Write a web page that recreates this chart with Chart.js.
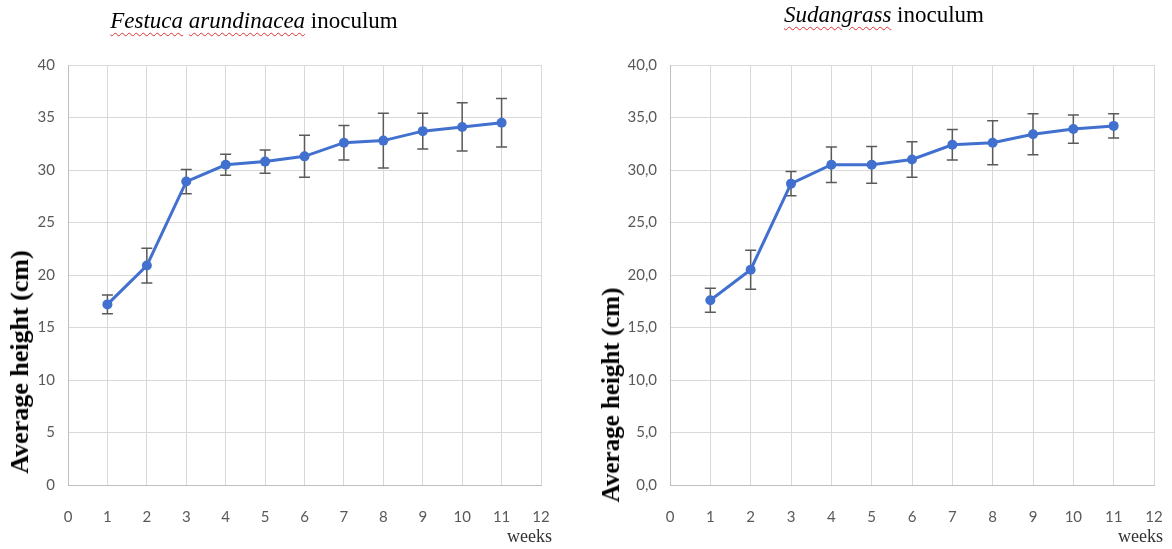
<!DOCTYPE html>
<html>
<head>
<meta charset="utf-8">
<script src="https://cdn.jsdelivr.net/npm/chart.js@4/dist/chart.umd.min.js"></script>
<style>
  html, body { margin:0; padding:0; background:#fff; overflow:hidden; }
  #wrap { position:relative; width:1172px; height:549px; overflow:hidden; background:#fff; }
  canvas { position:absolute; top:0; }
  .title { position:absolute; font-family:"Liberation Serif","DejaVu Serif",serif; font-size:23px; color:#000; white-space:nowrap; transform:translateX(-50%); }
  .title i { text-decoration: underline wavy #e03030; text-decoration-thickness:1px; text-underline-offset:4px; }
  .ytitle { position:absolute; font-family:"Liberation Serif","DejaVu Serif",serif; font-weight:bold; color:#000; white-space:nowrap; transform:translate(-50%,-50%) rotate(-90deg); }
  .weeks { position:absolute; font-family:"Liberation Serif","DejaVu Serif",serif; font-size:18px; color:#333; white-space:nowrap; }
</style>
</head>
<body>
<div id="wrap">
  <canvas id="c1" width="585" height="549" style="left:0px; width:585px; height:549px"></canvas>
  <canvas id="c2" width="587" height="549" style="left:585px; width:587px; height:549px"></canvas>
  <div class="title" style="left:254px; top:8px;"><i>Festuca</i> <i>arundinacea</i> inoculum</div>
  <div class="title" style="left:884px; top:2px;"><i>Sudangrass</i> inoculum</div>
  <div class="ytitle" style="left:20px; top:362px; font-size:26px;">Average height (cm)</div>
  <div class="ytitle" style="left:611px; top:395px; font-size:25px;">Average height (cm)</div>
  <div class="weeks" style="left:507px; top:526px;">weeks</div>
  <div class="weeks" style="left:1118px; top:526px;">weeks</div>
</div>
<script>
const weeks = [1, 2, 3, 4, 5, 6, 7, 8, 9, 10, 11];
const festucaMean = [17.2, 20.9, 28.9, 30.5, 30.8, 31.3, 32.6, 32.8, 33.7, 34.1, 34.5];
const festucaErr  = [0.9, 1.65, 1.15, 1.0, 1.1, 2.0, 1.65, 2.6, 1.7, 2.3, 2.3];
const sudanMean   = [17.6, 20.5, 28.7, 30.5, 30.5, 31.0, 32.4, 32.6, 33.4, 33.9, 34.2];
const sudanErr    = [1.15, 1.85, 1.15, 1.7, 1.75, 1.7, 1.45, 2.1, 1.95, 1.35, 1.15];
const xTicks = [0, 1, 2, 3, 4, 5, 6, 7, 8, 9, 10, 11, 12];
const yTicks = [0, 5, 10, 15, 20, 25, 30, 35, 40];

const errorBars = {
  id: 'errorBars',
  beforeDatasetsDraw(chart, args, opts) {
    const ctx = chart.ctx;
    const ys = chart.scales.y;
    const meta = chart.getDatasetMeta(0);
    const errs = opts.errors;
    const means = opts.means;
    ctx.save();
    ctx.strokeStyle = '#5a5a5a';
    ctx.lineWidth = 1.5;
    meta.data.forEach((pt, i) => {
      const x = pt.x;
      const yt = ys.getPixelForValue(means[i] + errs[i]);
      const yb = ys.getPixelForValue(means[i] - errs[i]);
      ctx.beginPath();
      ctx.moveTo(x, yt); ctx.lineTo(x, yb);
      ctx.moveTo(x - 5.5, yt); ctx.lineTo(x + 5.5, yt);
      ctx.moveTo(x - 5.5, yb); ctx.lineTo(x + 5.5, yb);
      ctx.stroke();
    });
    ctx.restore();
  }
};

function makeChart(id, means, errs, yFmt, yWidth, padRight) {
  return new Chart(document.getElementById(id), {
    type: 'line',
    data: {
      datasets: [{
        data: weeks.map((w, i) => ({ x: w, y: means[i] })),
        borderColor: '#4170cf',
        backgroundColor: '#4170cf',
        borderWidth: 3,
        pointRadius: 5,
        pointBorderWidth: 0,
        tension: 0
      }]
    },
    options: {
      responsive: false,
      devicePixelRatio: 1,
      animation: false,
      layout: { padding: { top: 65, right: padRight, left: 0, bottom: 0 } },
      plugins: {
        legend: { display: false },
        tooltip: { enabled: false },
        errorBars: { errors: errs, means: means }
      },
      scales: {
        x: {
          type: 'linear', min: 0, max: 12,
          afterBuildTicks: s => { s.ticks = xTicks.map(v => ({ value: v })); },
          afterFit: s => { s.height = 64; s.paddingLeft = 0; s.paddingRight = 0; },
          ticks: { color: '#595959', font: { family: 'Lato', size: 15 }, padding: 23, maxRotation: 0, autoSkip: false },
          grid: { color: '#d9d9d9', drawTicks: false, lineWidth: 1 },
          border: { color: '#bfbfbf', width: 1 }
        },
        y: {
          min: 0, max: 40,
          afterBuildTicks: s => { s.ticks = yTicks.map(v => ({ value: v })); },
          afterFit: s => { s.width = yWidth; },
          ticks: { color: '#595959', font: { family: 'Lato', size: 15 }, padding: 13, callback: yFmt },
          grid: { color: '#d9d9d9', drawTicks: false, lineWidth: 1 },
          border: { color: '#bfbfbf', width: 1 }
        }
      }
    },
    plugins: [errorBars]
  });
}

makeChart('c1', festucaMean, festucaErr, v => String(v), 68, 44);
makeChart('c2', sudanMean, sudanErr, v => v.toFixed(1).replace('.', ','), 85, 18);
</script>
</body>
</html>
